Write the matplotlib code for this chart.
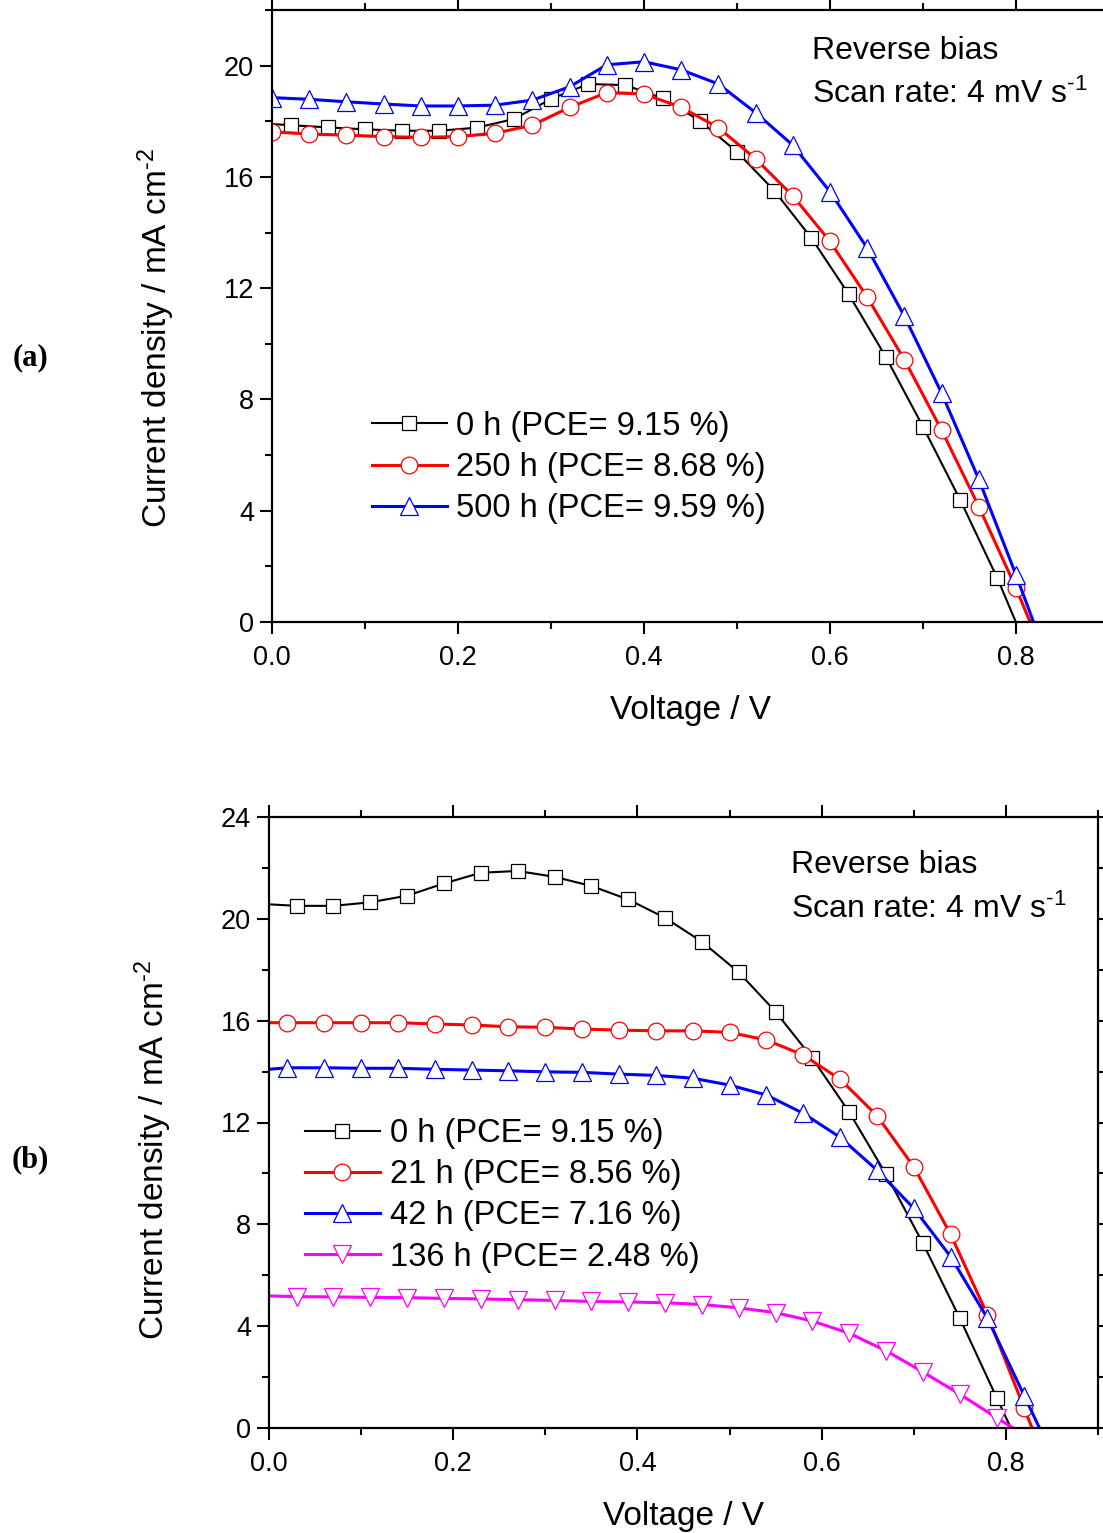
import numpy as np
import matplotlib
matplotlib.use("Agg")
import matplotlib.pyplot as plt

plt.rcParams['font.family'] = ['Liberation Sans', 'DejaVu Sans']
plt.rcParams['mathtext.default'] = 'regular'

# ---- panel (a): stability under reverse bias, 0 / 250 / 500 h ----
a_v_0h = [0.0, 0.02, 0.06, 0.10, 0.14, 0.18, 0.22, 0.26, 0.30, 0.34, 0.38,
          0.42, 0.46, 0.50, 0.54, 0.58, 0.62, 0.66, 0.70, 0.74, 0.78, 0.82]
a_j_0h = [17.9, 17.86, 17.78, 17.71, 17.66, 17.66, 17.77, 18.08, 18.80, 19.34, 19.30,
          18.83, 18.02, 16.90, 15.51, 13.80, 11.79, 9.53, 7.02, 4.39, 1.57, -1.6]

a_v_250h = [0.0, 0.04, 0.08, 0.12, 0.16, 0.20, 0.24, 0.28, 0.32, 0.36, 0.40,
            0.44, 0.48, 0.52, 0.56, 0.60, 0.64, 0.68, 0.72, 0.76, 0.80, 0.84]
a_j_250h = [17.62, 17.54, 17.50, 17.45, 17.42, 17.45, 17.57, 17.86, 18.50, 19.03, 18.98,
            18.50, 17.77, 16.65, 15.32, 13.68, 11.68, 9.43, 6.90, 4.15, 1.22, -2.0]

a_v_500h = [0.0, 0.04, 0.08, 0.12, 0.16, 0.20, 0.24, 0.28, 0.32, 0.36, 0.40,
            0.44, 0.48, 0.52, 0.56, 0.60, 0.64, 0.68, 0.72, 0.76, 0.80, 0.84]
a_j_500h = [18.85, 18.79, 18.70, 18.62, 18.55, 18.55, 18.58, 18.76, 19.24, 20.03, 20.14,
            19.85, 19.34, 18.31, 17.14, 15.47, 13.44, 10.99, 8.23, 5.13, 1.69, -1.9]

a_labels = ["0 h (PCE= 9.15 %)", "250 h (PCE= 8.68 %)", "500 h (PCE= 9.59 %)"]

# ---- panel (b): 0 / 21 / 42 / 136 h ----
b_v_odd = [0.0, 0.03, 0.07, 0.11, 0.15, 0.19, 0.23, 0.27, 0.31, 0.35, 0.39,
           0.43, 0.47, 0.51, 0.55, 0.59, 0.63, 0.67, 0.71, 0.75, 0.79, 0.83]
b_j_0h = [20.57, 20.51, 20.51, 20.65, 20.91, 21.39, 21.81, 21.88, 21.65, 21.29, 20.76,
          20.04, 19.10, 17.90, 16.35, 14.52, 12.40, 9.96, 7.25, 4.31, 1.19, -1.9]

b_v_even = [0.0, 0.02, 0.06, 0.10, 0.14, 0.18, 0.22, 0.26, 0.30, 0.34, 0.38,
            0.42, 0.46, 0.50, 0.54, 0.58, 0.62, 0.66, 0.70, 0.74, 0.78, 0.82, 0.86]
b_j_21h = [15.92, 15.92, 15.92, 15.92, 15.92, 15.87, 15.83, 15.76, 15.74, 15.67, 15.63,
           15.60, 15.60, 15.54, 15.24, 14.65, 13.70, 12.27, 10.26, 7.61, 4.44, 0.77, -2.9]
b_j_42h = [14.09, 14.15, 14.15, 14.13, 14.13, 14.09, 14.06, 14.03, 13.99, 13.97, 13.90,
           13.85, 13.74, 13.47, 13.08, 12.36, 11.42, 10.13, 8.63, 6.73, 4.31, 1.26, -1.8]

b_j_136h = [5.19, 5.16, 5.15, 5.13, 5.12, 5.09, 5.07, 5.04, 5.01, 4.97, 4.95,
            4.92, 4.85, 4.72, 4.53, 4.20, 3.72, 3.03, 2.20, 1.33, 0.40, -0.5]

b_labels = ["0 h (PCE= 9.15 %)", "21 h (PCE= 8.56 %)", "42 h (PCE= 7.16 %)",
            "136 h (PCE= 2.48 %)"]

W, H = 1103, 1533
fig = plt.figure(figsize=(W / 100, H / 100), dpi=100)


def px_axes(left, top, right, bottom):
    return fig.add_axes([left / W, 1 - bottom / H, (right - left) / W, (bottom - top) / H])


ax1 = px_axes(272, 10, 1109, 622)
ax2 = px_axes(269, 817, 1098, 1428)

skip_first = slice(1, None)
line_kw = dict(markerfacecolor='white', markeredgewidth=0.9)
scan_text = 'Scan rate: 4 mV s$^{\u20101}$'


def style_axes(ax, ymax, ylab_x, ylab_y):
    ax.set_xlim(0, 0.9)
    ax.set_ylim(0, ymax)
    ax.set_xticks([0.0, 0.2, 0.4, 0.6, 0.8])
    ax.set_xticks(np.arange(0.1, 0.91, 0.2), minor=True)
    ax.set_yticks(np.arange(0, ymax + 0.1, 4))
    ax.set_yticks(np.arange(2, ymax + 0.1, 4), minor=True)
    ax.xaxis.set_major_formatter(matplotlib.ticker.FormatStrFormatter('%.1f'))
    ax.tick_params(which='major', direction='out', length=8.5, width=1.5,
                   top=True, right=True, labelsize=19.5)
    ax.tick_params(which='minor', direction='out', length=5, width=1.5,
                   top=True, right=True)
    ax.tick_params(axis='x', which='major', pad=8)
    ax.tick_params(axis='y', which='major', pad=4.5)
    for s in ax.spines.values():
        s.set_linewidth(1.6)
    ax.set_xlabel('Voltage / V', fontsize=24, labelpad=17)
    ax.set_ylabel('Current density / mA cm$^{\u20102}$', fontsize=24)
    ax.yaxis.set_label_coords(ylab_x, ylab_y)


def add_legend(ax, anchor):
    ax.legend(loc='upper left', bbox_to_anchor=anchor, frameon=False, fontsize=23.5,
              handlelength=2.3, handletextpad=0.3, labelspacing=0.31, borderpad=0,
              borderaxespad=0, numpoints=1)


ax1.plot(a_v_0h, a_j_0h, color='black', lw=1.5, marker='s', ms=10.5,
         markeredgecolor='black', markevery=skip_first, label=a_labels[0], **line_kw)
ax1.plot(a_v_250h, a_j_250h, color='red', lw=2.2, marker='o', ms=12,
         markeredgecolor='red', label=a_labels[1], **line_kw)
ax1.plot(a_v_500h, a_j_500h, color='blue', lw=2.2, marker='^', ms=13,
         markeredgecolor='blue', label=a_labels[2], **line_kw)
style_axes(ax1, 22, -0.1135, 0.464)
add_legend(ax1, (0.119, 0.345))
ax1.text(812 / W, 1 - 59 / H, 'Reverse bias', transform=fig.transFigure, fontsize=23,
         va='baseline')
ax1.text(812 / W, 1 - 103 / H, scan_text, transform=fig.transFigure, fontsize=23,
         va='baseline')

ax2.plot(b_v_odd, b_j_0h, color='black', lw=1.5, marker='s', ms=10.5,
         markeredgecolor='black', markevery=skip_first, label=b_labels[0], **line_kw)
ax2.plot(b_v_even, b_j_21h, color='red', lw=2.2, marker='o', ms=12,
         markeredgecolor='red', markevery=skip_first, label=b_labels[1], **line_kw)
ax2.plot(b_v_even, b_j_42h, color='blue', lw=2.2, marker='^', ms=13,
         markeredgecolor='blue', markevery=skip_first, label=b_labels[2], **line_kw)
ax2.plot(b_v_odd, b_j_136h, color='magenta', lw=2.2, marker='v', ms=13,
         markeredgecolor='magenta', markevery=skip_first, label=b_labels[3], **line_kw)
style_axes(ax2, 24, -0.1146, 0.455)
add_legend(ax2, (0.043, 0.507))
ax2.text(791 / W, 1 - 873 / H, 'Reverse bias', transform=fig.transFigure, fontsize=23,
         va='baseline')
ax2.text(791 / W, 1 - 918 / H, scan_text, transform=fig.transFigure, fontsize=23,
         va='baseline')

fig.text(30 / W, 1 - 358 / H, '(a)', family='Liberation Serif', fontweight='bold',
         fontsize=22, ha='center', va='center')
fig.text(30 / W, 1 - 1160 / H, '(b)', family='Liberation Serif', fontweight='bold',
         fontsize=22, ha='center', va='center')

fig.savefig('out.png', dpi=100)
